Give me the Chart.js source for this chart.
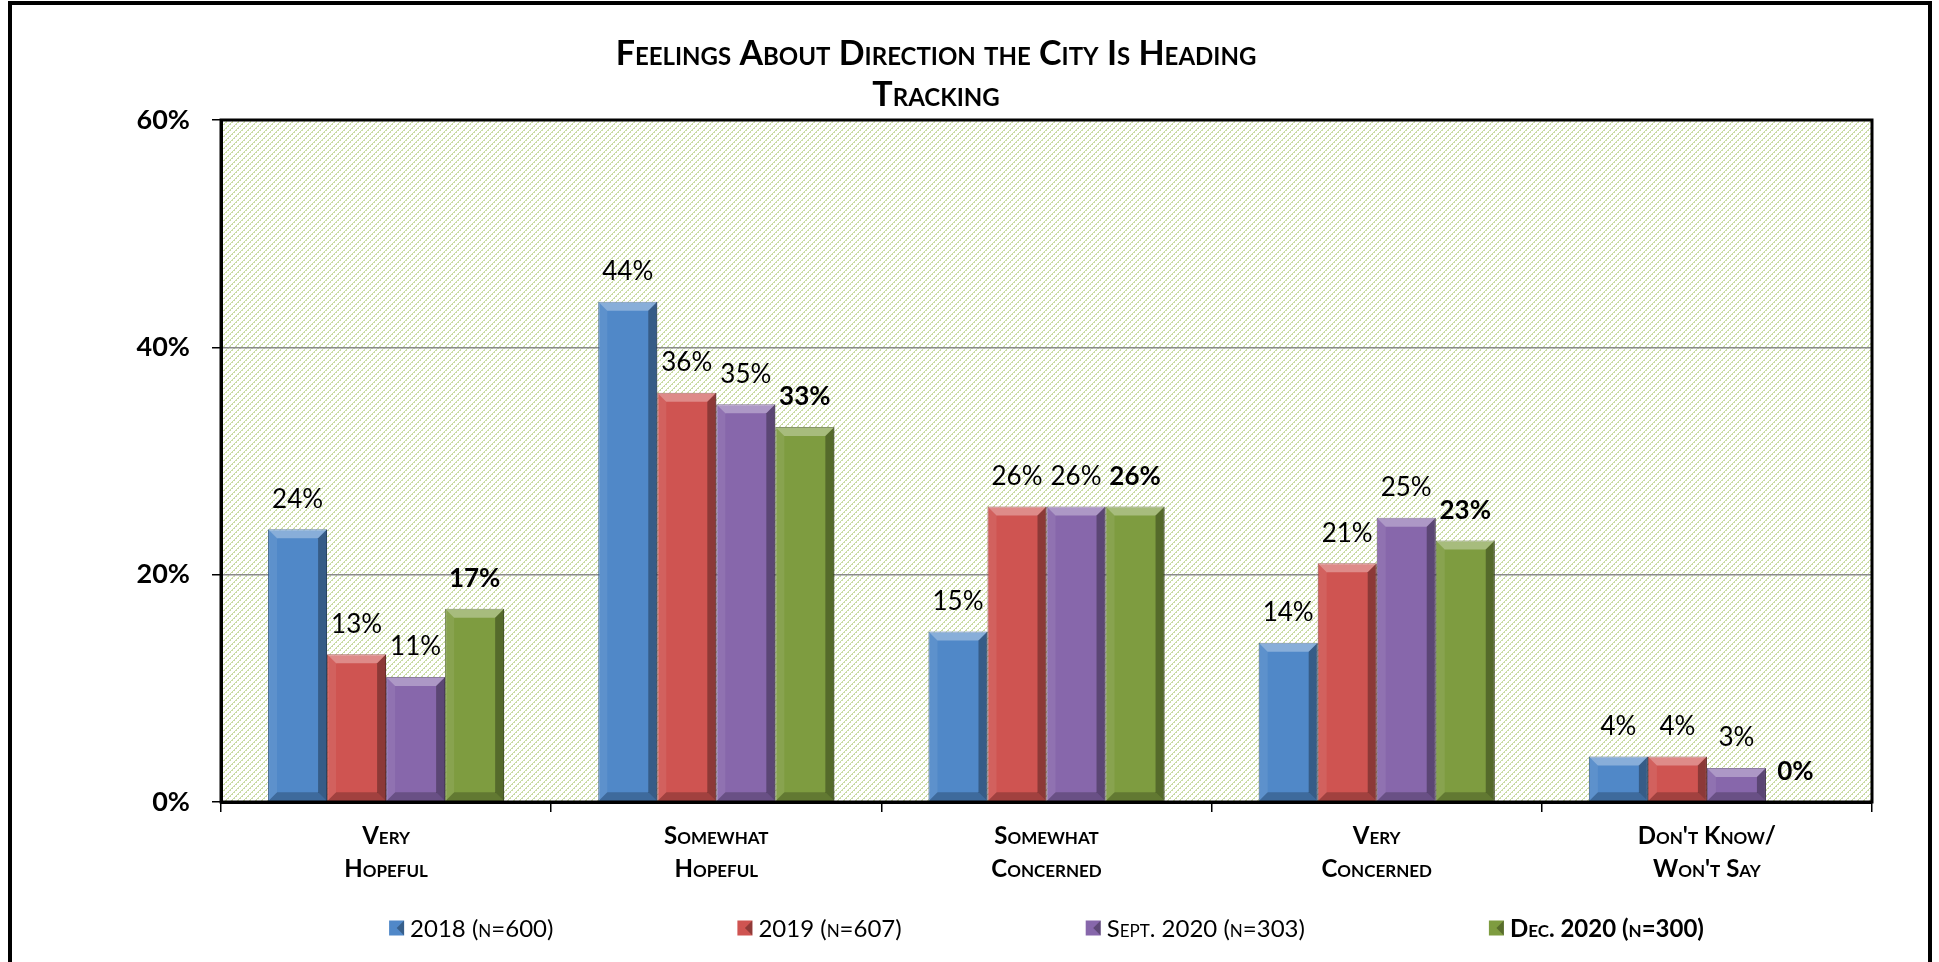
<!DOCTYPE html>
<html>
<head>
<meta charset="utf-8">
<script src="https://cdn.jsdelivr.net/npm/chart.js@4.4.0/dist/chart.umd.min.js"></script>
<style>
  html, body { margin: 0; padding: 0; background: #fff; }
  #wrap { width: 1939px; height: 962px; }
</style>
</head>
<body>
<div id="wrap"><canvas id="c" width="1939" height="962"></canvas></div>
<script>
// 类目与序列数据
var categories = [['Very', 'Hopeful'], ['Somewhat', 'Hopeful'], ['Somewhat', 'Concerned'], ['Very', 'Concerned'], ["Don't Know/", "Won't Say"]];
var seriesLabels = ['2018 (n=600)', '2019 (n=607)', 'Sept. 2020 (n=303)', 'Dec. 2020 (n=300)'];
var values2018 = [24, 44, 15, 14, 4];
var values2019 = [13, 36, 26, 21, 4];
var valuesSept2020 = [11, 35, 26, 25, 3];
var valuesDec2020 = [17, 33, 26, 23, 0];
var yTicks = [0, 20, 40, 60];

var colors = ['#5088c8', '#cf5451', '#8767ab', '#7e9c40'];
var edgeColors = ['#2f5786', '#8a302e', '#584073', '#4f6426'];
var FONT = 'Lato, "Open Sans", sans-serif';

/** 斜线底纹 (绘图区背景) */
function makeHatch() {
  var p = document.createElement('canvas');
  p.width = 6; p.height = 6;
  var g = p.getContext('2d');
  g.fillStyle = '#ffffff';
  g.fillRect(0, 0, 6, 6);
  g.fillStyle = '#c9dba3';
  for (var i = 0; i < 6; i++) {
    g.fillRect(i, 5 - i, 1, 1);
    if (i % 2 === 0) g.fillRect(i, (6 - i) % 6, 1, 1);
  }
  return g.createPattern(p, 'repeat');
}

var framePlugin = {
  id: 'frame',
  beforeDraw: function(chart) {
    var ctx = chart.ctx, a = chart.chartArea;
    ctx.save();
    ctx.fillStyle = '#fff';
    ctx.fillRect(0, 0, chart.width, chart.height);
    ctx.fillStyle = makeHatch();
    ctx.fillRect(a.left, a.top, a.right - a.left, a.bottom - a.top);
    ctx.strokeStyle = '#000';
    ctx.lineWidth = 4;
    ctx.strokeRect(10, 3, 1920, 1000);
    ctx.restore();
  },
  afterDatasetsDraw: function(chart) {
    var ctx = chart.ctx, a = chart.chartArea;
    ctx.save();
    // 立体斜面效果
    chart.data.datasets.forEach(function(ds, di) {
      chart.getDatasetMeta(di).data.forEach(function(el) {
        var l = el.x - el.width / 2, r = el.x + el.width / 2, t = el.y, b = el.base;
        var h = b - t;
        if (h < 1) return;
        var s = Math.min(9, h / 2);
        function poly(pts, fill) {
          ctx.beginPath();
          ctx.moveTo(pts[0], pts[1]);
          for (var k = 2; k < pts.length; k += 2) ctx.lineTo(pts[k], pts[k + 1]);
          ctx.closePath();
          ctx.fillStyle = fill;
          ctx.fill();
        }
        poly([l, t, r, t, r - s, t + s, l + s, t + s], 'rgba(255,255,255,0.32)');
        poly([r, t, r, b, r - s, b - s, r - s, t + s], 'rgba(0,0,0,0.32)');
        poly([l, b, r, b, r - s, b - s, l + s, b - s], 'rgba(0,0,0,0.22)');
        poly([l, t, l + s, t + s, l + s, b - s, l, b], 'rgba(255,255,255,0.08)');
      });
    });
    // 数据标签
    chart.data.datasets.forEach(function(ds, di) {
      var last = di === chart.data.datasets.length - 1;
      ctx.font = (last ? 'bold ' : '') + '26px ' + FONT;
      ctx.fillStyle = '#000';
      ctx.textAlign = 'center';
      ctx.textBaseline = 'middle';
      chart.getDatasetMeta(di).data.forEach(function(el, i) {
        ctx.fillText(ds.data[i] + '%', el.x, el.y - 30);
      });
    });
    // 绘图区边框
    ctx.strokeStyle = '#000';
    ctx.lineWidth = 3;
    ctx.strokeRect(a.left, a.top, a.right - a.left, a.bottom - a.top);
    ctx.restore();
  },
  afterDraw: function(chart) {
    // 自定义图例 (最后一项加粗)
    var ctx = chart.ctx, a = chart.chartArea;
    var box = 15, gapText = 6, gapItem = 184, y = 928;
    ctx.save();
    var items = chart.data.datasets.map(function(ds, di) {
      var last = di === chart.data.datasets.length - 1;
      var f = 'small-caps ' + (last ? 'bold ' : '') + '24px ' + FONT;
      ctx.font = f;
      return { text: ds.label, font: f, w: ctx.measureText(ds.label).width, color: colors[di] };
    });
    var total = 0;
    items.forEach(function(it, i) { total += box + gapText + it.w + (i ? gapItem : 0); });
    var x = (a.left + a.right) / 2 - total / 2;
    items.forEach(function(it) {
      ctx.fillStyle = it.color;
      ctx.fillRect(x, y - box / 2, box, box);
      ctx.fillStyle = 'rgba(0,0,0,0.3)';
      ctx.beginPath();
      ctx.moveTo(x + box, y - box / 2); ctx.lineTo(x + box, y + box / 2); ctx.lineTo(x + box / 2, y); ctx.closePath();
      ctx.fill();
      ctx.fillStyle = '#000';
      ctx.font = it.font;
      ctx.textAlign = 'left';
      ctx.textBaseline = 'middle';
      ctx.fillText(it.text, x + box + gapText, y + 1);
      x += box + gapText + it.w + gapItem;
    });
    ctx.restore();
  }
};

var seriesValues = [values2018, values2019, valuesSept2020, valuesDec2020];

new Chart(document.getElementById('c'), {
  type: 'bar',
  data: {
    labels: categories,
    datasets: seriesValues.map(function(v, i) {
      return {
        label: seriesLabels[i],
        data: v,
        backgroundColor: colors[i],
        borderColor: edgeColors[i],
        borderWidth: 1,
        barPercentage: 1,
        categoryPercentage: 0.715
      };
    })
  },
  options: {
    responsive: false,
    animation: false,
    layout: { padding: { left: 0, right: 67, top: 0, bottom: 60 } },
    plugins: {
      legend: { display: false },
      tooltip: { enabled: false },
      title: {
        display: true,
        text: ['Feelings About Direction the City Is Heading', 'Tracking'],
        color: '#000',
        // weight 字段带上 small-caps, Chart.js 直接拼进 font 字符串
        font: { family: FONT, size: 34, weight: 'small-caps bold', lineHeight: 41 / 34 },
        padding: { top: 34, bottom: 4 }
      }
    },
    scales: {
      x: {
        offset: true,
        grid: { display: true, offset: true, drawOnChartArea: false, color: '#000', tickColor: '#000', tickLength: 10, lineWidth: 1.5 },
        border: { display: true, color: '#000', width: 3 },
        ticks: {
          color: '#000',
          padding: 8,
          maxRotation: 0,
          autoSkip: false,
          font: { family: FONT, size: 24, weight: 'small-caps bold', lineHeight: 33 / 24 }
        },
        afterFit: function(scale) { scale.height = 100; }
      },
      y: {
        min: 0,
        max: 60,
        afterBuildTicks: function(scale) { scale.ticks = yTicks.map(function(v) { return { value: v }; }); },
        grid: {
          color: function(c) { return (c.tick && (c.tick.value === 20 || c.tick.value === 40)) ? '#8a8a8a' : 'rgba(0,0,0,0)'; },
          tickColor: '#000',
          tickLength: 9,
          lineWidth: 1.5
        },
        border: { display: true, color: '#000', width: 3 },
        ticks: {
          color: '#000',
          padding: 22,
          font: { family: FONT, size: 27, weight: 'bold' },
          callback: function(v) { return v + '%'; }
        },
        afterFit: function(scale) { scale.width = 221; }
      }
    }
  },
  plugins: [framePlugin]
});
</script>
</body>
</html>
